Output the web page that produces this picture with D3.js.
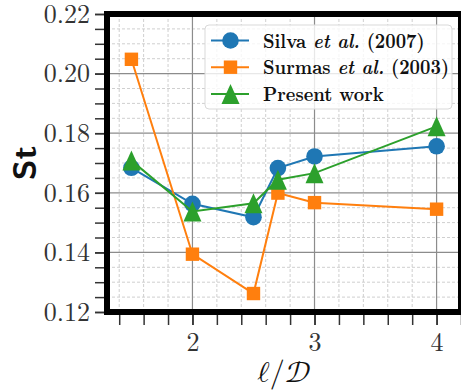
<!DOCTYPE html>
<html>
<head>
<meta charset="utf-8">
<script src="https://cdn.jsdelivr.net/npm/d3@7"></script>
<style>
  body { margin: 0; background: #fff; }
  svg { display: block; }
</style>
</head>
<body>
<svg id="drawing_region"></svg>
<script>
const ratios = [1.5, 2, 2.5, 2.7, 3, 4];
const silva = [0.1684, 0.1563, 0.1518, 0.1683, 0.1722, 0.1756];
const surmas = [0.2048, 0.1394, 0.1262, 0.1599, 0.1567, 0.1545];
const present = [0.1708, 0.1537, 0.1565, 0.1644, 0.1666, 0.1823];
const xTicks = [2, 3, 4];
const yTicks = [0.12, 0.14, 0.16, 0.18, 0.20, 0.22];

const series = [
    { name: 'Silva', year: '2007', etal: true, values: silva, color: '#1f77b4', marker: 'circle' },
    { name: 'Surmas', year: '2003', etal: true, values: surmas, color: '#ff7f0e', marker: 'square' },
    { name: 'Present work', year: null, etal: false, values: present, color: '#2ca02c', marker: 'triangle' }
];

const SERIF = '"Latin Modern Roman", "Liberation Serif", serif';

class StrouhalChart {
    constructor(config, data) {
        this.config = {
            parent: config.parent,
            width: config.width || 461,
            height: config.height || 391,
            margin: config.margin || {top:14, right:0, bottom:79, left:107}
        };
        this.data = data;
        this.init();
    }

    init() {
        let self = this;
        self.svg = d3.select(self.config.parent)
            .attr('width', self.config.width)
            .attr('height', self.config.height);

        self.chart = self.svg.append('g')
            .attr('transform', `translate(${self.config.margin.left}, ${self.config.margin.top})`);

        self.inner_width = self.config.width - self.config.margin.left - self.config.margin.right;
        self.inner_height = self.config.height - self.config.margin.top - self.config.margin.bottom;

        self.xscale = d3.scaleLinear()
            .domain([1.3, 4.2])
            .range([0, self.inner_width]);

        self.yscale = d3.scaleLinear()
            .domain([0.12, 0.22])
            .range([self.inner_height, 0]);

        self.xminor = d3.range(14, 43, 2).map(d => d / 10);
        self.yminor = d3.range(24, 45, 1).map(d => d / 200);

        self.line = d3.line()
            .x(d => self.xscale(d[0]))
            .y(d => self.yscale(d[1]));
    }

    render() {
        let self = this;
        const W = self.inner_width, H = self.inner_height;

        // minor grid (dashed)
        self.chart.append('g').selectAll('line')
            .data(self.xminor.filter(d => !xTicks.includes(d)))
            .join('line')
            .attr('x1', d => self.xscale(d)).attr('x2', d => self.xscale(d))
            .attr('y1', 0).attr('y2', H)
            .attr('stroke', '#cfcfcf').attr('stroke-width', 1)
            .attr('stroke-dasharray', '3,2');

        self.chart.append('g').selectAll('line')
            .data(self.yminor.filter(d => !yTicks.some(t => Math.abs(t - d) < 1e-9)))
            .join('line')
            .attr('x1', 0).attr('x2', W)
            .attr('y1', d => self.yscale(d)).attr('y2', d => self.yscale(d))
            .attr('stroke', '#cfcfcf').attr('stroke-width', 1)
            .attr('stroke-dasharray', '3,2');

        // major grid
        self.chart.append('g').selectAll('line')
            .data(xTicks)
            .join('line')
            .attr('x1', d => self.xscale(d)).attr('x2', d => self.xscale(d))
            .attr('y1', 0).attr('y2', H)
            .attr('stroke', '#8c8c8c').attr('stroke-width', 1.2);

        self.chart.append('g').selectAll('line')
            .data(yTicks)
            .join('line')
            .attr('x1', 0).attr('x2', W)
            .attr('y1', d => self.yscale(d)).attr('y2', d => self.yscale(d))
            .attr('stroke', '#8c8c8c').attr('stroke-width', 1.2);

        // axes
        const xaxis_minor = d3.axisBottom(self.xscale).tickValues(self.xminor).tickSize(13).tickFormat('');
        const xaxis = d3.axisBottom(self.xscale).tickValues(xTicks).tickSize(13).tickPadding(8)
            .tickFormat(d3.format('d'));
        const yaxis_minor = d3.axisLeft(self.yscale).tickValues(self.yminor).tickSize(12).tickFormat('');
        const yaxis = d3.axisLeft(self.yscale).tickValues(yTicks).tickSize(12).tickPadding(5)
            .tickFormat(d3.format('.2f'));

        [xaxis_minor, xaxis].forEach(ax => {
            self.chart.append('g')
                .attr('transform', `translate(0, ${H})`)
                .call(ax)
                .call(g => g.select('.domain').remove());
        });
        [yaxis_minor, yaxis].forEach(ax => {
            self.chart.append('g')
                .call(ax)
                .call(g => g.select('.domain').remove());
        });

        self.chart.selectAll('.tick line')
            .attr('stroke', '#333')
            .attr('stroke-width', 1.5);
        self.chart.selectAll('.tick text')
            .attr('font-family', SERIF)
            .attr('font-size', 26)
            .attr('fill', '#333');

        // series lines and markers
        self.data.forEach(s => {
            const pts = ratios.map((r, i) => [r, s.values[i]]);
            self.chart.append('path')
                .attr('d', self.line(pts))
                .attr('fill', 'none')
                .attr('stroke', s.color)
                .attr('stroke-width', 2);

            const g = self.chart.append('g');
            pts.forEach(p => {
                self.marker(g, s.marker, self.xscale(p[0]), self.yscale(p[1]), s.color);
            });
        });

        // frame
        self.chart.append('rect')
            .attr('x', 0).attr('y', 0)
            .attr('width', W).attr('height', H)
            .attr('fill', 'none')
            .attr('stroke', '#000')
            .attr('stroke-width', 6);

        // legend
        const lg = self.chart.append('g')
            .attr('transform', `translate(${98}, ${11})`);
        lg.append('rect')
            .attr('width', 247).attr('height', 84)
            .attr('rx', 4)
            .attr('fill', 'rgba(255,255,255,0.8)')
            .attr('stroke', '#d9d9d9')
            .attr('stroke-width', 1);

        self.data.forEach((s, i) => {
            const cy = 15.5 + i * 26.7;
            lg.append('line')
                .attr('x1', 6).attr('x2', 44)
                .attr('y1', cy).attr('y2', cy)
                .attr('stroke', s.color).attr('stroke-width', 2);
            self.marker(lg, s.marker, 25.5, cy, s.color);

            // the reference uses the narrower CM bold, so squeeze horizontally
            const t = lg.append('text')
                .attr('transform', `translate(58, ${cy + 7}) scale(0.885, 1)`)
                .attr('font-family', SERIF)
                .attr('font-weight', 'bold')
                .attr('font-size', 20.5)
                .attr('fill', '#111');
            if (s.etal) {
                t.append('tspan').text(s.name + ' ');
                t.append('tspan').attr('font-style', 'italic').text('et al.');
                t.append('tspan').text(' (' + s.year + ')');
            } else {
                t.text(s.name);
            }
        });

        // axis titles
        self.svg.append('text')
            .attr('transform', `translate(36, 163) rotate(-90)`)
            .attr('text-anchor', 'middle')
            .attr('font-family', '"Latin Modern Sans", "LM Sans 10", "Open Sans", sans-serif')
            .attr('font-weight', 600)
            .attr('font-size', 34)
            .attr('fill', '#111')
            .text('St');

        self.svg.append('text')
            .attr('x', self.config.margin.left + W / 2)
            .attr('y', 382)
            .attr('text-anchor', 'middle')
            .attr('font-family', '"Latin Modern Math", "Latin Modern Roman", serif')
            .attr('font-size', 30)
            .attr('fill', '#111')
            .text('ℓ/𝒟');
    }

    marker(g, type, x, y, color) {
        if (type === 'circle') {
            g.append('circle')
                .attr('cx', x).attr('cy', y).attr('r', 8.3)
                .attr('fill', color);
        } else if (type === 'square') {
            g.append('rect')
                .attr('x', x - 6.7).attr('y', y - 6.7)
                .attr('width', 13.4).attr('height', 13.4)
                .attr('fill', color);
        } else {
            g.append('path')
                .attr('d', `M${x},${y - 10}L${x + 9},${y + 10}L${x - 9},${y + 10}Z`)
                .attr('fill', color);
        }
    }
}

const chart = new StrouhalChart({
    parent: '#drawing_region',
    width: 461,
    height: 391,
    margin: {top:14, right:0, bottom:79, left:107}
}, series);
chart.render();
</script>
</body>
</html>
